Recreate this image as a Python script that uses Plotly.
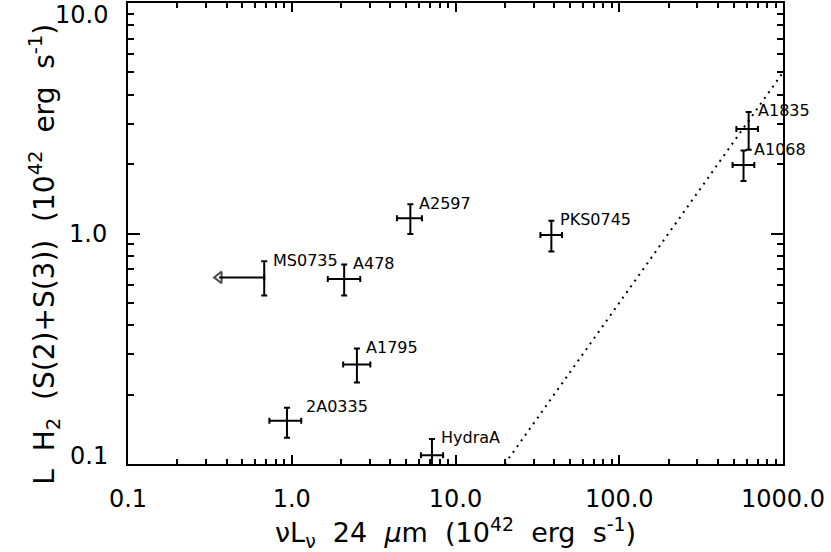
import math

import plotly.graph_objects as go

# cluster names and values (units of 1e42 erg/s)
names = ["MS0735", "A478", "A2597", "PKS0745", "A1835", "A1068", "A1795", "2A0335", "HydraA"]
l24 = [0.679, 2.09, 5.30, 38.5, 617, 574, 2.50, 0.935, 7.18]
l24_lo = [0.679, 1.66, 4.39, 33.0, 519, 492, 2.06, 0.730, 6.15]
l24_hi = [0.679, 2.62, 6.24, 44.7, 703, 668, 3.02, 1.143, 8.40]
lh2 = [0.645, 0.635, 1.166, 0.984, 2.84, 1.98, 0.270, 0.154, 0.109]
lh2_lo = [0.538, 0.538, 0.994, 0.836, 2.31, 1.69, 0.226, 0.130, 0.092]
lh2_hi = [0.757, 0.733, 1.34, 1.135, 3.37, 2.29, 0.317, 0.1755, 0.1285]
label_dx = [7, 7, 7, 7, 7, 8, 7, 17, 7]

# MS0735 is an upper limit in 24 um
ms_limit_x = [0.679, 0.36]

# dotted reference line
ref_x = [20, 1000]
ref_y = [0.1, 5.0]

x_ticks = [0.1, 1, 10, 100, 1000]
x_ticktext = ["0.1", "1.0", "10.0", "100.0", "1000.0"]
x_minor = [m * d for d in [0.1, 1, 10, 100] for m in range(2, 10)]
y_minor = [m * d for d in [0.1, 1] for m in range(2, 10)]

FONT = "DejaVu Sans"

fig = go.Figure()

fig.add_trace(go.Scatter(
    x=ref_x, y=ref_y, mode="lines",
    line=dict(color="black", width=2, dash="2px,5px"),
    showlegend=False))

fig.add_trace(go.Scatter(
    x=l24, y=lh2, mode="markers",
    marker=dict(size=1, color="black", opacity=0),
    error_x=dict(type="data", symmetric=False,
                 array=[h - v for h, v in zip(l24_hi, l24)],
                 arrayminus=[v - l for v, l in zip(l24, l24_lo)],
                 color="black", thickness=2, width=3),
    error_y=dict(type="data", symmetric=False,
                 array=[h - v for h, v in zip(lh2_hi, lh2)],
                 arrayminus=[v - l for v, l in zip(lh2, lh2_lo)],
                 color="black", thickness=2, width=3),
    showlegend=False))

fig.add_trace(go.Scatter(
    x=ms_limit_x, y=[lh2[0], lh2[0]], mode="lines+markers",
    line=dict(color="black", width=2),
    marker=dict(symbol="triangle-left-open", size=[0, 10], color="black",
                line=dict(color="black", width=2)),
    showlegend=False))

# labels sit to the right of the upper error bar cap (annotation coords are log10 on log axes)
for n, x, y, dx in zip(names, l24, lh2_hi, label_dx):
    fig.add_annotation(x=math.log10(x), y=math.log10(y), text=n, showarrow=False,
                       xanchor="left", yanchor="middle", xshift=dx, yshift=1,
                       font=dict(family=FONT, size=16, color="black"))

# end tick labels of the y axis sit inside the frame
fig.add_annotation(x=0, xref="paper", y=1, yref="y", text="10.0", showarrow=False,
                   xanchor="right", yanchor="middle", xshift=-18, yshift=-12,
                   font=dict(family=FONT, size=24, color="black"))
fig.add_annotation(x=0, xref="paper", y=-1, yref="y", text="0.1", showarrow=False,
                   xanchor="right", yanchor="middle", xshift=-18, yshift=8,
                   font=dict(family=FONT, size=24, color="black"))

fig.add_annotation(x=-0.162, xref="paper", y=0.455, yref="paper", textangle=-90,
                   text="L  H<sub>2</sub>  (S(2)+S(3))  (10<sup>42</sup>  erg  s<sup>-1</sup>)",
                   showarrow=False, font=dict(family=FONT, size=28, color="black"))
fig.add_annotation(x=0.5, xref="paper", y=-0.148, yref="paper", yanchor="middle",
                   text="νL<sub>ν</sub>  24  <i>μ</i>m  (10<sup>42</sup>  erg  s<sup>-1</sup>)",
                   showarrow=False, font=dict(family=FONT, size=27, color="black"))

fig.update_xaxes(type="log", range=[-1, 3], showgrid=False, zeroline=False,
                 showline=True, linecolor="black", linewidth=2, mirror="allticks",
                 ticks="inside", ticklen=9, tickwidth=2, tickcolor="black",
                 tickmode="array", tickvals=x_ticks, ticktext=x_ticktext,
                 tickfont=dict(family=FONT, size=24, color="black"),
                 ticklabelstandoff=12,
                 minor=dict(ticks="inside", ticklen=5, tickwidth=2, tickcolor="black",
                            tickmode="array", tickvals=x_minor, showgrid=False))
fig.update_yaxes(type="log", range=[-1, 1], showgrid=False, zeroline=False,
                 showline=True, linecolor="black", linewidth=2, mirror="allticks",
                 ticks="inside", ticklen=12, tickwidth=2, tickcolor="black",
                 tickmode="array", tickvals=[0.1, 1, 10], ticktext=["", "1.0", ""],
                 tickfont=dict(family=FONT, size=24, color="black"),
                 ticklabelstandoff=14,
                 minor=dict(ticks="inside", ticklen=6, tickwidth=2, tickcolor="black",
                            tickmode="array", tickvals=y_minor, showgrid=False))

fig.update_layout(width=831, height=552, plot_bgcolor="white", paper_bgcolor="white",
                  margin=dict(l=128, r=48, t=1, b=88), showlegend=False)

# drop the page's default body margin so the figure sits at the window's corner
fig.write_html("out.html", config={"displayModeBar": False},
               post_script="document.body.style.margin='0';")
